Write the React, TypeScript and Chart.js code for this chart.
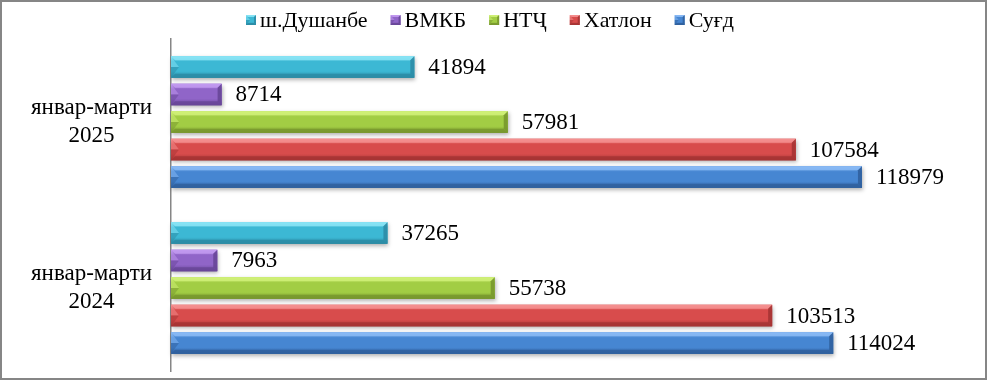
import React, { useEffect, useRef } from "react";
import { Chart, registerables } from "chart.js";

Chart.register(...registerables);

const categories: string[][] = [["январ-марти", "2025"], ["январ-марти", "2024"]];
const seriesNames = ["ш.Душанбе", "ВМКБ", "НТҶ", "Хатлон", "Суғд"];
const dushanbe = [41894, 37265];
const vmkb = [8714, 7963];
const ntch = [57981, 55738];
const khatlon = [107584, 103513];
const sughd = [118979, 114024];

const midColors = ["#3CB8D4", "#9065C8", "#A2CD44", "#D84C4C", "#4686D2"];
const lightColors = ["#8AE4F5", "#C29AF0", "#D0F078", "#F49090", "#8ABAF4"];
const darkColors = ["#2C8CA6", "#684698", "#78982E", "#A63434", "#30609E"];

const FONT = "'Liberation Serif', 'Times New Roman', serif";

function drawBevelRect(ctx: CanvasRenderingContext2D, x0: number, y0: number, x1: number, y1: number, di: number, b: number, shadow: boolean) {
  ctx.save();
  if (shadow) {
    ctx.shadowColor = "rgba(0,0,0,0.3)";
    ctx.shadowBlur = 4;
    ctx.shadowOffsetY = 2;
    ctx.shadowOffsetX = 1;
  }
  const g = ctx.createLinearGradient(0, y0, 0, y1);
  g.addColorStop(0, lightColors[di]);
  g.addColorStop(0.25, midColors[di]);
  g.addColorStop(0.7, midColors[di]);
  g.addColorStop(1, darkColors[di]);
  ctx.fillStyle = g;
  ctx.fillRect(x0, y0, x1 - x0, y1 - y0);
  ctx.restore();
  ctx.save();
  ctx.fillStyle = lightColors[di];
  ctx.globalAlpha = 0.85;
  ctx.beginPath();
  ctx.moveTo(x0, y0);
  ctx.lineTo(x1, y0);
  ctx.lineTo(x1 - b, y0 + b);
  ctx.lineTo(x0 + b, y0 + b);
  ctx.closePath();
  ctx.fill();
  ctx.fillStyle = darkColors[di];
  ctx.beginPath();
  ctx.moveTo(x0, y1);
  ctx.lineTo(x1, y1);
  ctx.lineTo(x1 - b, y1 - b);
  ctx.lineTo(x0 + b, y1 - b);
  ctx.closePath();
  ctx.fill();
  const ym = (y0 + y1) / 2;
  ctx.globalAlpha = 0.5;
  ctx.fillStyle = lightColors[di];
  ctx.beginPath();
  ctx.moveTo(x0, y0);
  ctx.lineTo(x0 + 2 * b, ym);
  ctx.lineTo(x0, ym);
  ctx.closePath();
  ctx.fill();
  ctx.fillStyle = darkColors[di];
  ctx.beginPath();
  ctx.moveTo(x0, y1);
  ctx.lineTo(x0 + 2 * b, ym);
  ctx.lineTo(x0, ym);
  ctx.closePath();
  ctx.fill();
  ctx.globalAlpha = 0.9;
  ctx.fillStyle = darkColors[di];
  ctx.beginPath();
  ctx.moveTo(x1, y0);
  ctx.lineTo(x1, y1);
  ctx.lineTo(x1 - b, y1 - b);
  ctx.lineTo(x1 - b, y0 + b);
  ctx.closePath();
  ctx.fill();
  ctx.restore();
}

const bevelPlugin = {
  id: "bevel",
  beforeDraw(chart: any) {
    const ctx = chart.ctx;
    ctx.save();
    ctx.fillStyle = "#ffffff";
    ctx.fillRect(0, 0, chart.width, chart.height);
    ctx.restore();
  },
  afterDatasetsDraw(chart: any) {
    const ctx = chart.ctx;
    chart.data.datasets.forEach((ds: any, di: number) => {
      const meta = chart.getDatasetMeta(di);
      if (meta.hidden) return;
      meta.data.forEach((el: any, i: number) => {
        const x0 = Math.min(el.base, el.x);
        const x1 = Math.max(el.base, el.x);
        const y0 = el.y - el.height / 2;
        const y1 = el.y + el.height / 2;
        drawBevelRect(ctx, x0, y0, x1, y1, di, 4, true);
        ctx.save();
        ctx.fillStyle = "#000000";
        ctx.font = `23px ${FONT}`;
        ctx.textAlign = "left";
        ctx.textBaseline = "middle";
        ctx.fillText(String(ds.data[i]), x1 + 14, el.y + 1);
        ctx.restore();
      });
    });
  },
  afterDraw(chart: any) {
    const ctx = chart.ctx;
    ctx.save();
    ctx.font = `22px ${FONT}`;
    const box = 10;
    const gapText = 4;
    const gapItem = 23;
    const widths = seriesNames.map((n) => ctx.measureText(n).width);
    const total = widths.reduce((a, w) => a + box + gapText + w, 0) + gapItem * (seriesNames.length - 1);
    let x = 490 - total / 2;
    const yc = 20;
    seriesNames.forEach((n, i) => {
      drawBevelRect(ctx, x, yc - box / 2, x + box, yc + box / 2, i, 2, false);
      ctx.fillStyle = "#000000";
      ctx.textAlign = "left";
      ctx.textBaseline = "middle";
      ctx.fillText(n, x + box + gapText, yc + 1);
      x += box + gapText + widths[i] + gapItem;
    });
    ctx.restore();
    ctx.save();
    ctx.strokeStyle = "#868686";
    ctx.lineWidth = 2;
    ctx.strokeRect(1, 1, chart.width - 2, chart.height - 2);
    ctx.restore();
  },
};

export default function App() {
  const ref = useRef<HTMLCanvasElement | null>(null);
  useEffect(() => {
    if (!ref.current) return;
    const all = [dushanbe, vmkb, ntch, khatlon, sughd];
    const chart = new Chart(ref.current, {
      type: "bar",
      data: {
        labels: categories as any,
        datasets: seriesNames.map((name, i) => ({
          label: name,
          data: all[i],
          backgroundColor: midColors[i],
          borderWidth: 0,
          categoryPercentage: 0.83,
          barPercentage: 0.78,
        })),
      },
      options: {
        indexAxis: "y",
        responsive: false,
        animation: false,
        maintainAspectRatio: false,
        layout: { padding: { top: 39, bottom: 9, left: 0, right: 32 } },
        plugins: {
          legend: { display: false },
          tooltip: { enabled: false },
        },
        scales: {
          x: {
            display: false,
            min: 0,
            max: 135000,
          },
          y: {
            display: true,
            grid: { display: false, drawTicks: false },
            border: { display: true, color: "#868686", width: 1.5 },
            ticks: {
              color: "#000000",
              font: { family: FONT, size: 23, lineHeight: 1.2 },
              crossAlign: "center",
              padding: 19,
            },
            afterFit: (s: any) => {
              s.width = 171;
              s.paddingTop = 0;
              s.paddingBottom = 0;
            },
          },
        },
      },
      plugins: [bevelPlugin],
    });
    return () => chart.destroy();
  }, []);
  return (
    <div style={{ position: "absolute", left: 0, top: 0, width: 987, height: 380 }}>
      <canvas ref={ref} width={987} height={380} style={{ display: "block" }} />
    </div>
  );
}
